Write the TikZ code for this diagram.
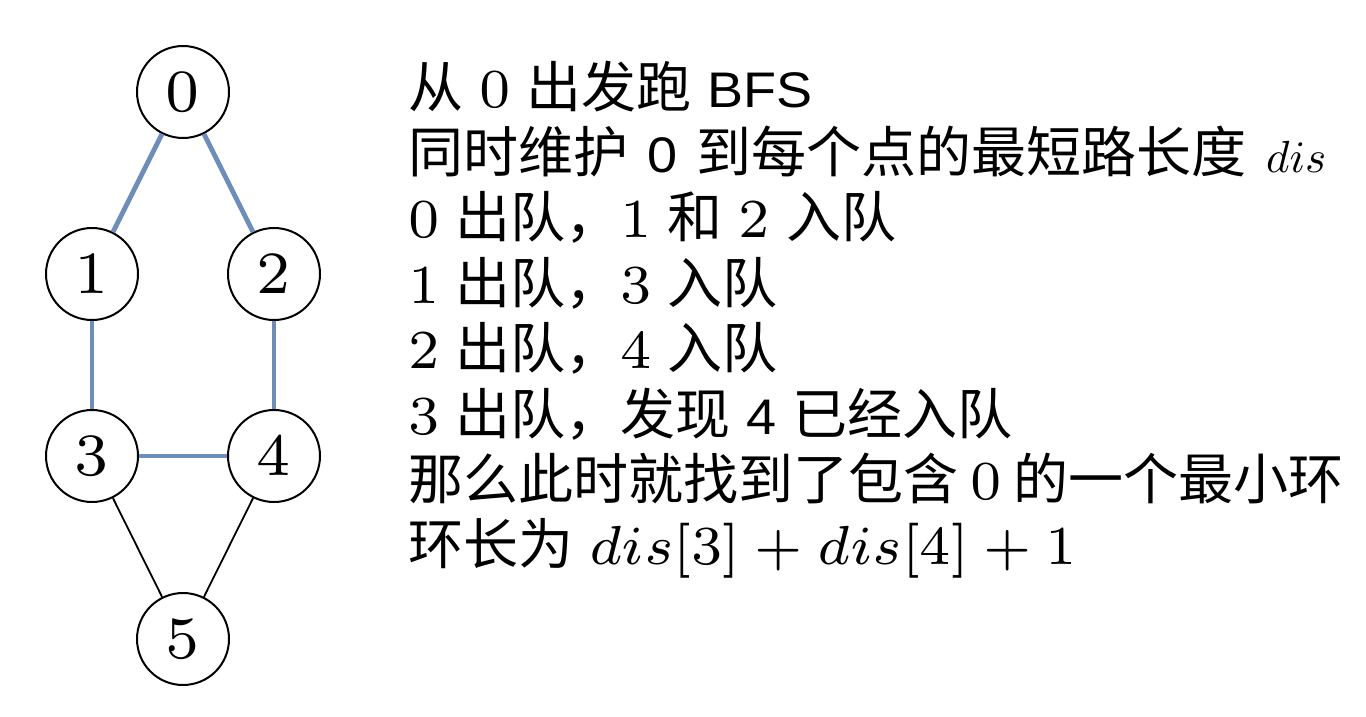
\documentclass[tikz,border=0pt]{standalone}
\usepackage[no-math]{fontspec}
\DeclareFontShape{OT1}{cmr}{m}{n}{<->cmr7}{}
\DeclareFontShape{OML}{cmm}{m}{it}{<-50>cmmi10<50->cmmi7}{}
\DeclareFontShape{OMS}{cmsy}{m}{n}{<->cmsy7}{}
\newfontfamily\cjk{Noto Sans CJK SC}
\newfontfamily\lat[FakeStretch=1.08]{Liberation Sans}
\definecolor{hlblue}{RGB}{108,142,191}
\newcommand\mymath[1]{{\fontsize{55}{55}\selectfont$#1$}}
\newcommand\smallmath[1]{{\fontsize{45}{45}\selectfont$#1$}}
\newcommand\latin[1]{{\lat\fontsize{50}{50}\selectfont #1}}
\newcommand\gap{\hspace{16pt}}
\begin{document}
\begin{tikzpicture}[x=1pt,y=-1pt,
  vtx/.style={circle,draw=black,line width=2pt,minimum size=92pt,inner sep=0pt,fill=white,
    font=\fontsize{60}{60}\selectfont},
  hl/.style={draw=hlblue,line width=4.8pt},
  plainedge/.style={draw=black,line width=1.8pt},
  txt/.style={anchor=base west,inner sep=0pt,font=\cjk\fontsize{55}{55}\selectfont}]
\useasboundingbox[fill=white] (0,0) rectangle (1366,717);
\coordinate (c0) at (183,92);
\coordinate (c1) at (92,274);
\coordinate (c2) at (274,274);
\coordinate (c3) at (92,456);
\coordinate (c4) at (274,456);
\coordinate (c5) at (183,639);
\node[vtx] (n0) at (c0) {$0$};
\node[vtx] (n1) at (c1) {$1$};
\node[vtx] (n2) at (c2) {$2$};
\node[vtx] (n3) at (c3) {$3$};
\node[vtx] (n4) at (c4) {$4$};
\node[vtx] (n5) at (c5) {$5$};
\draw[hl] (n0) -- (n1);
\draw[hl] (n0) -- (n2);
\draw[hl] (n1) -- (n3);
\draw[hl] (n2) -- (n4);
\draw[hl] (n3) -- (n4);
\draw[plainedge] (n3) -- (n5);
\draw[plainedge] (n4) -- (n5);
\node[txt] (t1) at (408,107) {从\gap{}\mymath{0}\gap{}出发跑\gap{}\latin{BFS}};
\node[txt] (t2) at (408,172.4) {同时维护\hspace{19pt}\latin{0}\hspace{19pt}到每个点的最短路长度\hspace{20pt}\smallmath{dis}};
\node[txt] (t3) at (408,237.8) {\mymath{0}\gap{}出队，\mymath{1}\gap{}和\gap{}\mymath{2}\gap{}入队};
\node[txt] (t4) at (408,303.2) {\mymath{1}\gap{}出队，\mymath{3}\gap{}入队};
\node[txt] (t5) at (408,368.6) {\mymath{2}\gap{}出队，\mymath{4}\gap{}入队};
\node[txt] (t6) at (408,434) {\mymath{3}\gap{}出队，发现\gap{}\latin{4}\gap{}已经入队};
\node[txt] (t7) at (408,499.4) {那么此时就找到了包含\hspace{12pt}\mymath{0}\hspace{12pt}的一个最小环};
\node[txt] (t8) at (408,564.8) {环长为\gap{}\mymath{dis[3]+dis[4]+1}};
\end{tikzpicture}
\end{document}
